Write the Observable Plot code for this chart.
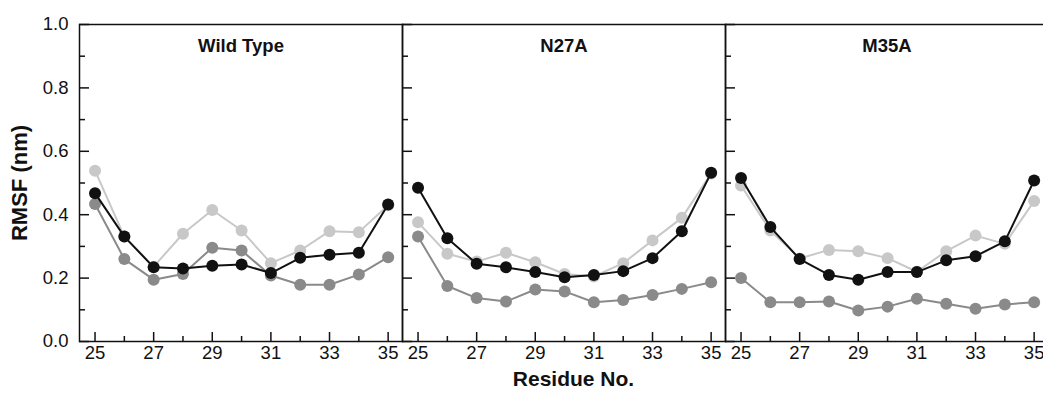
<!DOCTYPE html>
<html>
<head>
<meta charset="utf-8">
<script src="https://cdn.jsdelivr.net/npm/d3@7"></script>
<script src="https://cdn.jsdelivr.net/npm/@observablehq/plot@0.6"></script>
<style>
  html, body { margin: 0; padding: 0; background: #fff; overflow: hidden; }
</style>
</head>
<body>
<div id="chart"></div>
<script>
// ---- data ----
const residues = [25, 26, 27, 28, 29, 30, 31, 32, 33, 34, 35];
const panels = ["Wild Type", "N27A", "M35A"];
const seriesNames = ["light", "medium", "dark"];
const seriesColors = ["#c8c8c8", "#8a8a8a", "#111111"];

const wildTypeLight  = [0.539, 0.331, 0.236, 0.340, 0.415, 0.350, 0.247, 0.287, 0.348, 0.345, 0.430];
const wildTypeMedium = [0.434, 0.260, 0.195, 0.213, 0.296, 0.287, 0.208, 0.179, 0.179, 0.211, 0.266];
const wildTypeDark   = [0.468, 0.331, 0.234, 0.230, 0.239, 0.243, 0.216, 0.264, 0.274, 0.280, 0.432];

const n27aLight  = [0.376, 0.277, 0.252, 0.280, 0.250, 0.213, 0.205, 0.247, 0.319, 0.390, 0.530];
const n27aMedium = [0.331, 0.175, 0.137, 0.126, 0.164, 0.158, 0.124, 0.131, 0.147, 0.166, 0.187];
const n27aDark   = [0.485, 0.326, 0.245, 0.234, 0.219, 0.203, 0.210, 0.222, 0.263, 0.348, 0.532];

const m35aLight  = [0.492, 0.350, 0.262, 0.289, 0.285, 0.263, 0.220, 0.285, 0.334, 0.308, 0.443];
const m35aMedium = [0.200, 0.124, 0.124, 0.126, 0.098, 0.110, 0.135, 0.119, 0.103, 0.117, 0.124];
const m35aDark   = [0.516, 0.361, 0.260, 0.210, 0.195, 0.219, 0.219, 0.256, 0.269, 0.316, 0.508];

const yMajorTicks = [0, 0.2, 0.4, 0.6, 0.8, 1.0];
const yMinorTicks = [0.1, 0.3, 0.5, 0.7, 0.9];
const xMajorTicks = [25, 27, 29, 31, 33, 35];
const xMinorTicks = [26, 28, 30, 32, 34];

// ---- build a tidy table ----
const valuesByPanel = {
  "Wild Type": [wildTypeLight, wildTypeMedium, wildTypeDark],
  "N27A": [n27aLight, n27aMedium, n27aDark],
  "M35A": [m35aLight, m35aMedium, m35aDark]
};
const rows = [];
for (const p of panels) {
  valuesByPanel[p].forEach((vals, si) => {
    vals.forEach((v, i) => rows.push({panel: p, series: seriesNames[si], residue: residues[i], rmsf: v}));
  });
}

const frameW = 323, frameH = 317;

const seriesMarks = [];
seriesNames.forEach((s, si) => {
  const data = rows.filter(r => r.series === s);
  seriesMarks.push(Plot.line(data, {x: "residue", y: "rmsf", fx: "panel", stroke: seriesColors[si], strokeWidth: 2}));
  seriesMarks.push(Plot.dot(data, {x: "residue", y: "rmsf", fx: "panel", r: 6, fill: seriesColors[si], stroke: "none"}));
});

const chart = Plot.plot({
  width: 1050,
  height: 400,
  marginLeft: 79,
  marginRight: 2,
  marginTop: 24,
  marginBottom: 59,
  style: {fontFamily: "'Liberation Sans', Arial, sans-serif", fontSize: "18.5px", color: "#111", background: "#fff", maxWidth: "none"},
  fx: {domain: panels, padding: 0, axis: null},
  x: {domain: [24.47, 35.49], axis: null},
  y: {domain: [0, 1], axis: null},
  marks: [
    // inward tick marks
    Plot.tickY(yMajorTicks, {y: d => d, insetRight: frameW - 10, stroke: "#111", strokeWidth: 1.5}),
    Plot.tickY(yMinorTicks, {y: d => d, insetRight: frameW - 6, stroke: "#111", strokeWidth: 1.5}),
    Plot.tickX(xMajorTicks, {x: d => d, insetTop: frameH - 9, stroke: "#111", strokeWidth: 1.5}),
    Plot.tickX(xMinorTicks, {x: d => d, insetTop: frameH - 5, stroke: "#111", strokeWidth: 1.5}),
    // tick labels
    Plot.axisY(yMajorTicks, {anchor: "left", tickSize: 0, tickPadding: 11, tickFormat: d => d.toFixed(1), label: null, fontSize: 18.5}),
    Plot.axisX(xMajorTicks, {anchor: "bottom", tickSize: 0, tickPadding: 4, tickFormat: d => String(d), label: null, fontSize: 18.5}),
    ...seriesMarks,
    Plot.frame({stroke: "#111", strokeWidth: 1.5}),
    // panel titles
    Plot.text(panels, {fx: d => d, text: d => d, frameAnchor: "top", dy: 14, fontWeight: "bold", fontSize: 18.5}),
    // axis titles
    Plot.text(["RMSF (nm)"], {fx: () => panels[0], text: d => d, frameAnchor: "left", textAnchor: "middle", dx: -60, rotate: -90, fontWeight: "bold", fontSize: 22}),
    Plot.text(["Residue No."], {fx: () => panels[1], text: d => d, frameAnchor: "bottom", textAnchor: "middle", dx: 9.5, dy: 44, fontWeight: "bold", fontSize: 21})
  ]
});
document.getElementById("chart").appendChild(chart);
</script>
</body>
</html>
